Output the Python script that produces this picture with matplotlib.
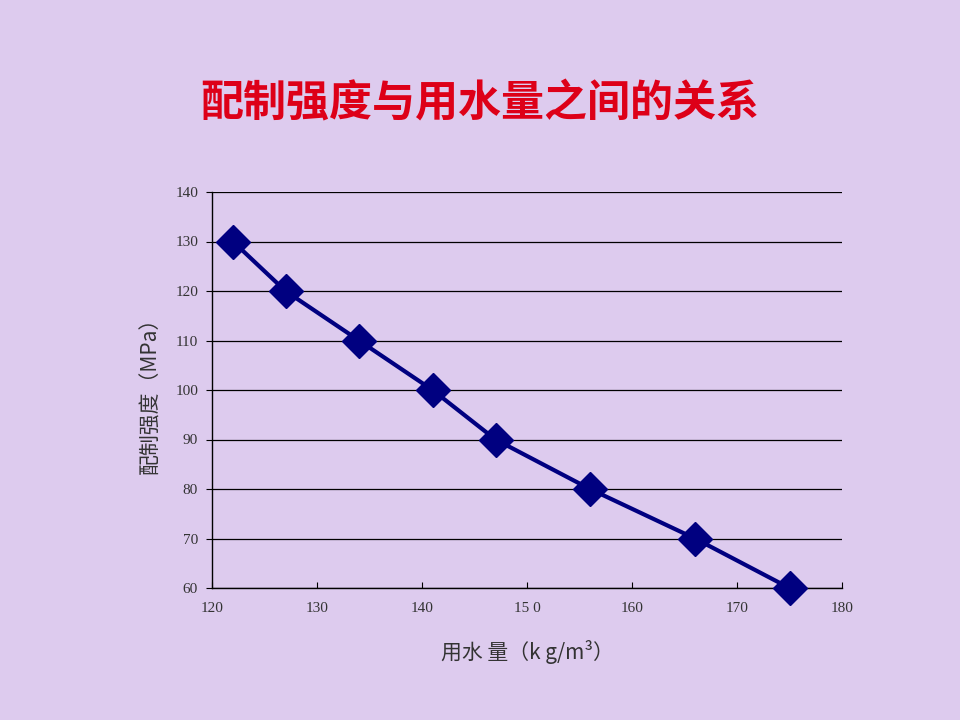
import matplotlib
matplotlib.use("Agg")
import matplotlib.pyplot as plt

plt.rcParams['font.family'] = ['Noto Sans CJK SC', 'DejaVu Sans']

water = [122, 127, 134, 141, 147, 156, 166, 175]
strength = [130, 120, 110, 100, 90, 80, 70, 60]
x_ticks = [120, 130, 140, 150, 160, 170, 180]
x_tick_labels = ['120', '130', '140', '15 0', '160', '170', '180']
y_ticks = [60, 70, 80, 90, 100, 110, 120, 130, 140]

title = '配制强度与用水量之间的关系'
xlabel = '用水 量（k g/m³）'
ylabel = '配制强度（MPa）'

bg = '#DDCBEE'
fig = plt.figure(figsize=(9.6, 7.2), dpi=100, facecolor=bg)
ax = fig.add_axes([212/960, 1-588/720, 630/960, 396/720])
ax.set_facecolor(bg)

ax.plot(water, strength, color='#000080', lw=3, marker='D', ms=17,
        markerfacecolor='#000080', markeredgecolor='#000080', zorder=3,
        clip_on=False)

ax.set_xlim(120, 180)
ax.set_ylim(60, 140)
ax.set_xticks(x_ticks)
ax.set_xticklabels(x_tick_labels)
ax.set_yticks(y_ticks)
ax.yaxis.grid(True, color='black', lw=0.9)
ax.set_axisbelow(True)
for s in ['top', 'right']:
    ax.spines[s].set_visible(False)
for s in ['left', 'bottom']:
    ax.spines[s].set_color('black')
    ax.spines[s].set_linewidth(1.0)

ax.tick_params(axis='x', direction='in', length=4, width=0.8, pad=10,
               labelsize=11, labelcolor='#333333')
ax.tick_params(axis='y', direction='out', length=4, width=0.8, pad=6,
               labelsize=11, labelcolor='#333333')
for lab in ax.get_xticklabels() + ax.get_yticklabels():
    lab.set_family(['Liberation Serif', 'DejaVu Serif'])

ax.set_xlabel(xlabel, fontsize=15, color='#333333', labelpad=18,
              fontweight='light')
ax.set_ylabel(ylabel, fontsize=15, color='#333333', labelpad=10,
              fontweight='light')

fig.text(0.5, 1-103/720, title, ha='center', va='center', fontsize=31,
         fontweight='black', color='#DD0018')

fig.savefig('out.png', dpi=100, facecolor=bg)
